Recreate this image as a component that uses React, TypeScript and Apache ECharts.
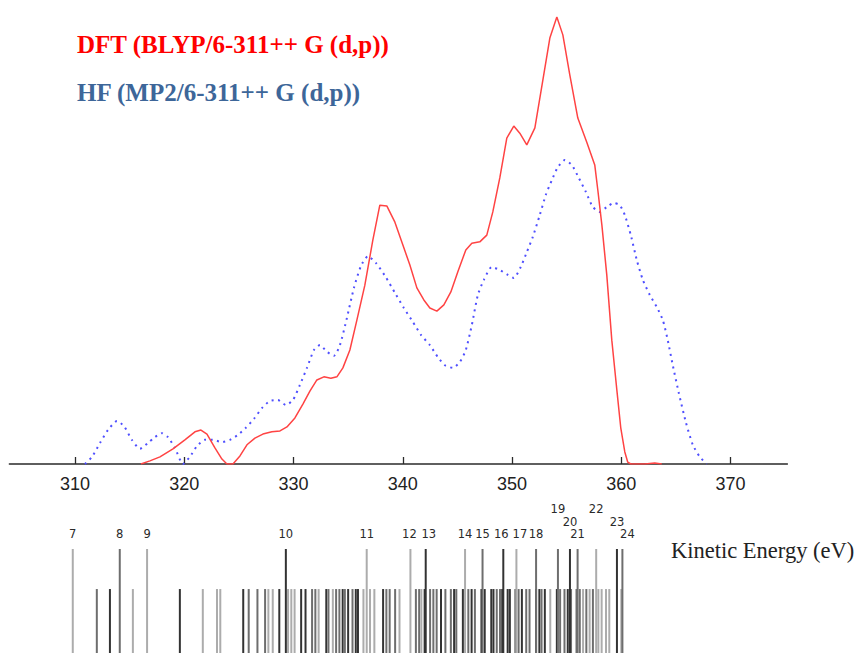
import React, { useEffect, useRef } from "react";
import * as echarts from "echarts";

// ---- Simulated spectra (kinetic energy in eV, relative intensity) ----
const dftEnergy = [316.04, 316.86, 317.78, 318.97, 320.06, 320.98, 321.53, 322.08, 322.81, 323.45, 323.91, 324.46, 325.10, 325.74, 326.47, 327.20, 328.02, 328.76, 329.40, 330.13, 330.86, 331.50, 332.14, 332.78, 333.42, 333.97, 334.52, 335.16, 335.80, 336.53, 337.26, 337.90, 338.55, 339.28, 340.01, 340.65, 341.29, 341.93, 342.48, 343.12, 343.76, 344.40, 345.04, 345.77, 346.32, 347.05, 347.69, 348.24, 348.88, 349.52, 350.16, 350.71, 351.35, 352.09, 352.82, 353.46, 354.10, 354.65, 355.29, 356.02, 356.84, 357.57, 357.85, 358.22, 358.67, 359.13, 359.59, 359.95, 360.32, 360.59, 360.87, 362.15, 363.06, 363.70];
const dftIntensity = [0, 0.7, 1.6, 3.4, 5.4, 7.2, 7.6, 6.7, 3.6, 1.1, 0, 0, 1.8, 4.3, 5.8, 6.7, 7.2, 7.4, 8.3, 10.3, 13.4, 16.3, 18.8, 19.5, 19.2, 19.5, 21.5, 25.5, 32.2, 40.0, 50.1, 57.9, 57.7, 54.1, 49.0, 44.5, 39.4, 36.7, 34.9, 34.2, 35.6, 38.5, 43.0, 47.9, 49.4, 49.7, 51.2, 56.4, 64.0, 72.9, 75.6, 74.0, 71.4, 75.2, 85.9, 95.3, 100, 96.0, 87.0, 77.4, 72.0, 66.9, 61.3, 53.5, 42.3, 27.7, 16.6, 8.1, 2.7, 0.4, 0, 0, 0.2, 0];

const hfEnergy = [310.91, 311.56, 312.29, 313.02, 313.84, 314.48, 315.21, 315.95, 316.68, 317.32, 317.96, 318.51, 319.15, 319.88, 320.52, 321.16, 321.89, 322.63, 323.45, 324.18, 324.91, 325.64, 326.38, 327.11, 327.84, 328.57, 329.30, 329.95, 330.59, 331.23, 331.87, 332.42, 333.06, 333.70, 334.25, 334.89, 335.53, 336.17, 336.81, 337.54, 338.45, 339.28, 340.10, 340.92, 341.66, 342.48, 343.21, 343.85, 344.58, 345.22, 345.77, 346.32, 346.87, 347.42, 348.15, 348.88, 349.62, 350.16, 350.80, 351.35, 351.90, 352.54, 353.09, 353.64, 354.19, 354.83, 355.47, 356.11, 356.75, 357.39, 358.03, 358.67, 359.31, 359.86, 360.32, 360.87, 361.42, 361.97, 362.61, 363.25, 363.80, 364.25, 364.71, 365.26, 365.90, 366.54, 367.18, 367.82];
const hfIntensity = [0, 1.6, 4.7, 7.6, 9.6, 8.5, 5.4, 3.4, 4.7, 6.0, 6.9, 6.0, 3.6, 0, 1.6, 4.0, 5.4, 5.4, 4.9, 5.4, 6.5, 8.1, 10.1, 12.5, 14.1, 14.3, 13.2, 14.3, 17.7, 21.5, 25.5, 26.6, 25.1, 24.2, 26.6, 32.7, 39.4, 44.3, 46.5, 45.0, 41.8, 38.3, 34.9, 31.8, 28.9, 26.6, 23.9, 22.1, 21.5, 22.8, 25.5, 31.1, 37.8, 41.2, 44.1, 43.4, 42.3, 41.6, 44.1, 47.4, 50.8, 55.7, 60.2, 63.5, 66.4, 68.0, 66.9, 64.0, 60.9, 57.5, 56.4, 57.5, 58.4, 57.9, 55.7, 51.2, 45.6, 41.2, 37.8, 35.1, 32.2, 27.7, 22.1, 15.9, 9.4, 4.3, 1.6, 0];

// ---- Axis ticks ----
const xTicks = [310, 320, 330, 340, 350, 360, 370];

// ---- Stick spectrum (labelled orbitals) ----
const orbitalNumbers = [7, 8, 9, 10, 11, 12, 13, 14, 15, 16, 17, 18, 19, 20, 21, 22, 23, 24];
const orbitalEnergies = [309.8, 314.1, 316.6, 329.3, 336.7, 340.7, 342.1, 345.7, 347.3, 349.2, 350.4, 352.2, 354.2, 355.3, 356.0, 357.7, 359.6, 360.1];
const orbitalLevels = [1, 2, 1, 3, 1, 1, 3, 1, 2, 3, 1, 2, 2, 3, 2, 1, 3, 2];
const orbitalIntensity = 1;

// ---- Stick spectrum (unlabelled transitions) ----
const minorEnergies = [312.0, 313.2, 315.3, 319.6, 321.7, 323.0, 323.3, 325.4, 325.9, 326.7, 327.4, 327.7, 328.1, 328.7, 329.5, 329.8, 330.1, 330.7, 331.1, 331.7, 332.0, 332.3, 333.0, 333.2, 333.6, 333.9, 334.2, 334.5, 334.7, 335.0, 335.4, 335.7, 335.9, 336.4, 337.0, 337.4, 338.2, 338.5, 338.8, 339.3, 339.7, 341.2, 341.5, 341.7, 342.0, 342.5, 342.8, 343.1, 343.5, 343.9, 344.4, 344.7, 344.9, 345.5, 346.0, 346.3, 346.6, 347.2, 347.5, 348.1, 348.3, 348.6, 348.9, 349.1, 349.6, 349.8, 350.3, 350.6, 350.9, 351.3, 351.6, 352.2, 352.5, 352.7, 353.0, 353.5, 354.1, 354.4, 354.8, 355.1, 355.4, 355.9, 356.2, 356.5, 356.8, 357.1, 357.4, 357.9, 358.2, 358.6, 358.9, 360.0];
const minorLevels = [2, 3, 1, 3, 1, 1, 1, 3, 2, 2, 2, 1, 1, 3, 1, 1, 1, 3, 3, 2, 2, 1, 3, 2, 1, 2, 2, 3, 2, 3, 2, 3, 3, 1, 1, 1, 3, 2, 2, 2, 1, 2, 2, 1, 3, 2, 2, 2, 3, 2, 2, 3, 2, 3, 2, 3, 2, 3, 3, 3, 3, 2, 2, 3, 3, 3, 2, 2, 3, 2, 2, 3, 3, 2, 3, 1, 3, 2, 2, 3, 2, 2, 2, 1, 2, 1, 2, 1, 1, 1, 1, 1];
const minorIntensity = 0.615;

const shade: Record<number, string> = { 1: "#acacac", 2: "#6e6e6e", 3: "#333333" };
const labelRow: Record<number, number> = { 19: 2, 22: 2, 20: 1, 23: 1 };
const labelShift: Record<number, number> = { 12: -1, 13: 3, 16: -2, 17: 3.5, 24: 5 };

const X_MIN = 304;
const X_MAX = 375.2;
const GRID_LEFT = 9.4;
const GRID_RIGHT = 68.6;

export default function App() {
  const ref = useRef<HTMLDivElement>(null);
  useEffect(() => {
    if (!ref.current) return;
    const chart = echarts.init(ref.current, undefined, { renderer: "svg" });

    const stickItem = (params: any, api: any) => {
      const x = api.value(0);
      const h = api.value(1);
      const lvl = api.value(2);
      const num = api.value(3);
      const p0 = api.coord([x, 0]);
      const p1 = api.coord([x, h]);
      const children: any[] = [
        {
          type: "line",
          shape: { x1: p0[0], y1: p0[1] + 2, x2: p1[0], y2: p1[1] },
          style: { stroke: shade[lvl], lineWidth: 2 },
        },
      ];
      if (num > 0) {
        const row = labelRow[num] || 0;
        const dx = labelShift[num] || 0;
        children.push({
          type: "text",
          x: p1[0] + dx,
          y: p1[1] - 15 - row * 12.5,
          style: {
            text: String(num),
            align: "center",
            verticalAlign: "middle",
            fontSize: 11.5,
            fontFamily: "DejaVu Sans",
            fill: "#2a2a2a",
          },
        });
      }
      return { type: "group", children };
    };

    chart.setOption({
      animation: false,
      backgroundColor: "#fff",
      grid: [
        { left: GRID_LEFT, right: GRID_RIGHT, top: 17, bottom: 189 },
        { left: GRID_LEFT, right: GRID_RIGHT, top: 549, bottom: 0 },
      ],
      xAxis: [
        {
          type: "value",
          gridIndex: 0,
          min: X_MIN,
          max: X_MAX,
          splitLine: { show: false },
          axisLine: { show: true, onZero: false, lineStyle: { color: "#2a2a2a", width: 1.5 } },
          axisTick: { show: true, inside: true, length: 7, customValues: xTicks, lineStyle: { color: "#2a2a2a", width: 1.3 } },
          axisLabel: {
            customValues: xTicks,
            margin: 11,
            fontSize: 18,
            fontFamily: "Liberation Sans",
            color: "#222",
          },
        },
        {
          type: "value",
          gridIndex: 1,
          min: X_MIN,
          max: X_MAX,
          show: false,
        },
      ],
      yAxis: [
        { type: "value", gridIndex: 0, min: 0, max: 100, show: false },
        { type: "value", gridIndex: 1, min: 0, max: 1, show: false },
      ],
      series: [
        {
          type: "line",
          name: "HF",
          xAxisIndex: 0,
          yAxisIndex: 0,
          data: hfEnergy.map((e, i) => [e, hfIntensity[i]]),
          showSymbol: false,
          smooth: 0.2,
          lineStyle: { color: "#4f4fff", width: 2, type: [2, 4.5] },
          z: 3,
        },
        {
          type: "line",
          name: "DFT",
          xAxisIndex: 0,
          yAxisIndex: 0,
          data: dftEnergy.map((e, i) => [e, dftIntensity[i]]),
          showSymbol: false,
          lineStyle: { color: "#ff4343", width: 1.5 },
          z: 4,
        },
        {
          type: "custom",
          xAxisIndex: 1,
          yAxisIndex: 1,
          clip: false,
          renderItem: stickItem,
          data: minorEnergies.map((e, i) => [e, minorIntensity, minorLevels[i], 0]),
        },
        {
          type: "custom",
          xAxisIndex: 1,
          yAxisIndex: 1,
          clip: false,
          renderItem: stickItem,
          data: orbitalEnergies.map((e, i) => [e, orbitalIntensity, orbitalLevels[i], orbitalNumbers[i]]),
        },
      ],
      graphic: [
        {
          type: "text",
          left: 77,
          top: 32,
          style: {
            text: "DFT (BLYP/6-311++ G (d,p))",
            fontSize: 25,
            fontWeight: "bold",
            fontFamily: "Liberation Serif",
            fill: "#ff0000",
          },
        },
        {
          type: "text",
          left: 77,
          top: 80,
          style: {
            text: "HF (MP2/6-311++ G (d,p))",
            fontSize: 25,
            fontWeight: "bold",
            fontFamily: "Liberation Serif",
            fill: "#3d6699",
          },
        },
        {
          type: "text",
          left: 671,
          top: 539,
          style: {
            text: "Kinetic Energy (eV)",
            fontSize: 22.5,
            fontFamily: "Liberation Serif",
            fill: "#222",
          },
        },
      ],
    });
    return () => chart.dispose();
  }, []);

  return (
    <div
      ref={ref}
      style={{ position: "absolute", left: 0, top: 0, width: 856, height: 653 }}
    />
  );
}
